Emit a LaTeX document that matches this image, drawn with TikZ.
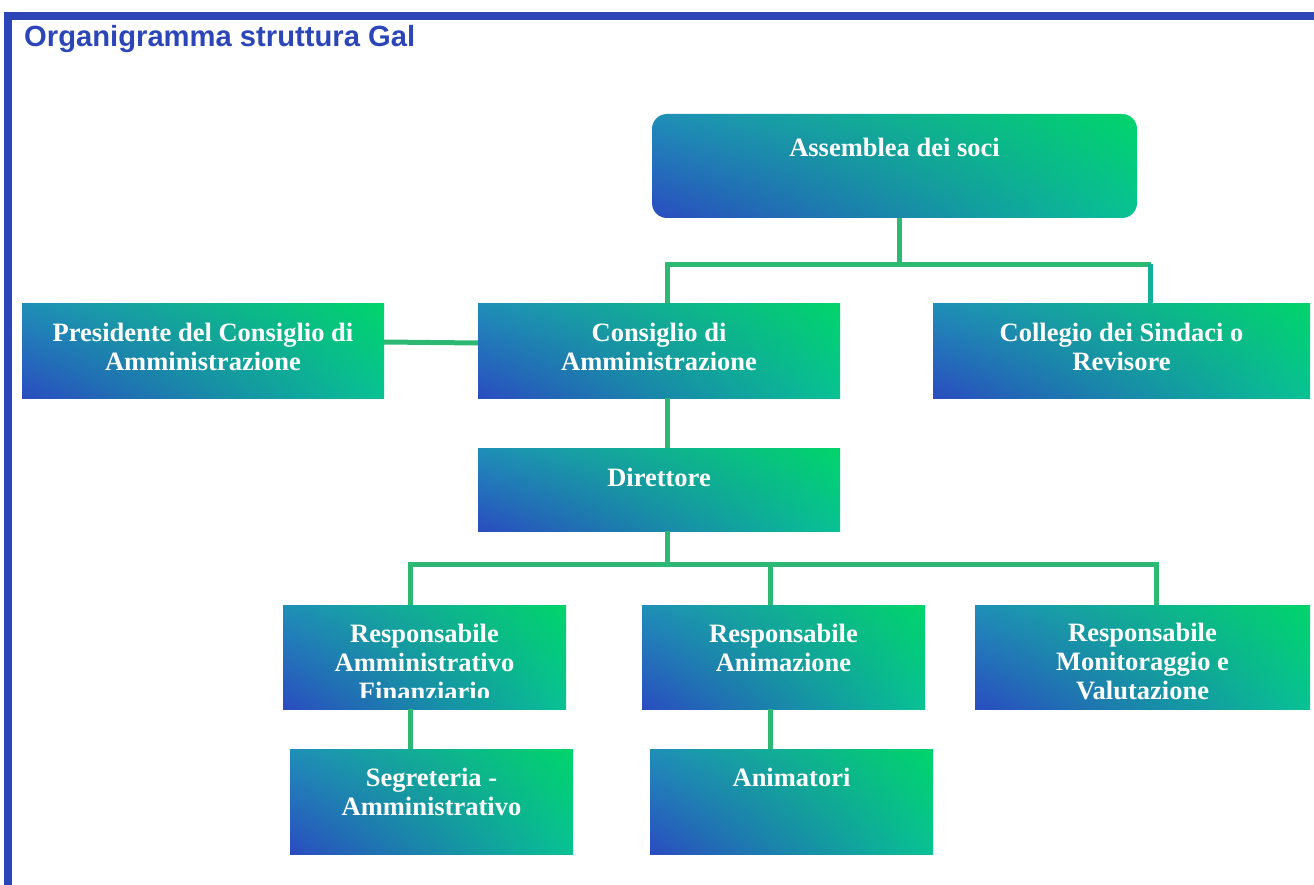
\documentclass[tikz,border=0pt]{standalone}
\usetikzlibrary{shadings}
\usepackage{fontspec}
\setmainfont{Liberation Serif}
\newfontfamily\titlefont{Liberation Sans}
\definecolor{frameblue}{RGB}{44,70,184}
\definecolor{gLL}{RGB}{42,76,192}
\definecolor{gUL}{RGB}{31,143,184}
\definecolor{gLR}{RGB}{8,194,148}
\definecolor{gUR}{RGB}{0,212,106}
\definecolor{conncol}{RGB}{45,185,115}
\definecolor{conncolb}{RGB}{16,176,154}
\begin{document}
\begin{tikzpicture}[x=1pt,y=-1pt,
  orgbox/.style={draw=none, inner sep=0pt, lower left=gLL, upper left=gUL, lower right=gLR, upper right=gUR},
  orgtxt/.style={anchor=north, inner sep=0pt, text=white, align=center, font=\bfseries\fontsize{26.5}{29}\selectfont},
  conn/.style={draw=conncol, line width=5pt, line join=miter}]
\useasboundingbox (0,0) rectangle (1314,885);
% frame
\fill[frameblue] (4,12) rectangle (1314,20);
\fill[frameblue] (4,12) rectangle (12,885);
\node[anchor=base west, inner sep=0pt, text=frameblue, font=\titlefont\bfseries\fontsize{29.2}{33}\selectfont] (title) at (24,47) {Organigramma struttura Gal};
% boxes
\node[orgbox, rounded corners=15pt, minimum width=485pt, minimum height=104pt] (asm) at (894.5,166) {};
\node[orgbox, minimum width=362pt, minimum height=95pt] (pres) at (203,350.5) {};
\node[orgbox, minimum width=362pt, minimum height=95pt] (cons) at (659,350.5) {};
\node[orgbox, minimum width=377pt, minimum height=95pt] (coll) at (1121.5,350.5) {};
\node[orgbox, minimum width=362pt, minimum height=83pt] (dir) at (659,489.5) {};
\node[orgbox, minimum width=283pt, minimum height=104pt] (raf) at (424.5,657) {};
\node[orgbox, minimum width=283pt, minimum height=104pt] (ran) at (783.5,657) {};
\node[orgbox, minimum width=335pt, minimum height=104pt] (rmv) at (1142.5,657) {};
\node[orgbox, minimum width=283pt, minimum height=105pt] (seg) at (431.5,801.5) {};
\node[orgbox, minimum width=283pt, minimum height=105pt] (ani) at (791.5,801.5) {};
% texts
\node[orgtxt] (tasm) at ([yshift=-23pt]asm.north) {\rule{0pt}{20pt}Assemblea dei soci};
\node[orgtxt] (tpres) at ([yshift=-18pt]pres.north) {\rule{0pt}{20pt}Presidente del Consiglio di\\Amministrazione};
\node[orgtxt] (tcons) at ([yshift=-18pt]cons.north) {\rule{0pt}{20pt}Consiglio di\\Amministrazione};
\node[orgtxt] (tcoll) at ([yshift=-18pt]coll.north) {\rule{0pt}{20pt}Collegio dei Sindaci o\\Revisore};
\node[orgtxt] (tdir) at ([yshift=-18pt]dir.north) {\rule{0pt}{20pt}Direttore};
\begin{scope}
\clip (283,605) rectangle (566,697);
\node[orgtxt] (traf) at ([yshift=-17pt]raf.north) {\rule{0pt}{20pt}Responsabile\\Amministrativo\\Finanziario};
\end{scope}
\node[orgtxt] (tran) at ([yshift=-17pt]ran.north) {\rule{0pt}{20pt}Responsabile\\Animazione};
\node[orgtxt] (trmv) at ([yshift=-16pt]rmv.north) {\rule{0pt}{20pt}Responsabile\\Monitoraggio e\\Valutazione};
\node[orgtxt] (tseg) at ([yshift=-17pt]seg.north) {\rule{0pt}{20pt}Segreteria -\\Amministrativo};
\node[orgtxt] (tani) at ([yshift=-17pt]ani.north) {\rule{0pt}{20pt}Animatori};
% connector coordinates
\coordinate (s1) at (899,264.5);
\coordinate (l1) at (667,264.5);
\coordinate (r1) at (1150.5,264.5);
\coordinate (d1) at (667.5,564.5);
\coordinate (l2) at (410.5,564.5);
\coordinate (m2) at (770.5,564.5);
\coordinate (r2) at (1156,564.5);
% connectors
\draw[conn] (asm.south -| s1) -- ([yshift=-3pt]s1);
\draw[conn] (cons.north -| l1) -- (l1) -- (r1);
\draw[conn, draw=conncolb] (r1) -- (coll.north -| r1);
\draw[conn] ([yshift=8.5pt]pres.east) -- ([yshift=7.5pt]cons.west);
\draw[conn] (cons.south -| l1) -- (dir.north -| l1);
\draw[conn] (dir.south -| d1) -- (d1);
\draw[conn] (raf.north -| l2) -- (l2) -- (r2) -- (rmv.north -| r2);
\draw[conn] (m2) -- (ran.north -| m2);
\draw[conn] (raf.south -| l2) -- (seg.north -| l2);
\draw[conn] (ran.south -| m2) -- (ani.north -| m2);
\end{tikzpicture}
\end{document}
